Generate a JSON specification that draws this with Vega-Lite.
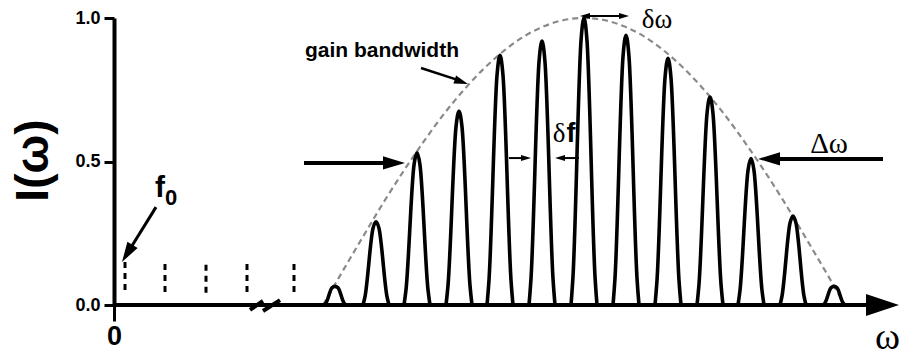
{
  "$schema": "https://vega.github.io/schema/vega-lite/v6.json",
  "width": 786,
  "height": 287,
  "autosize": "none",
  "padding": {"left": 114, "top": 18, "right": 0, "bottom": 51},
  "background": "white",
  "config": {"view": {"stroke": null}, "axis": {"grid": false}},
  "datasets": {
    "envelope": [
      {"x": 209, "y": 0}, {"x": 230, "y": 0.126}, {"x": 250, "y": 0.244}, {"x": 270, "y": 0.36},
      {"x": 290, "y": 0.469}, {"x": 310, "y": 0.571}, {"x": 330, "y": 0.666}, {"x": 350, "y": 0.75},
      {"x": 370, "y": 0.824}, {"x": 390, "y": 0.886}, {"x": 410, "y": 0.936}, {"x": 430, "y": 0.971},
      {"x": 450, "y": 0.993}, {"x": 470, "y": 1.0}, {"x": 490, "y": 0.993}, {"x": 510, "y": 0.971},
      {"x": 530, "y": 0.936}, {"x": 550, "y": 0.886}, {"x": 570, "y": 0.824}, {"x": 590, "y": 0.75},
      {"x": 610, "y": 0.666}, {"x": 630, "y": 0.571}, {"x": 650, "y": 0.469}, {"x": 670, "y": 0.36},
      {"x": 690, "y": 0.244}, {"x": 710, "y": 0.126}, {"x": 731, "y": 0}
    ],
    "peaks": [
      {"p": 1, "x": 210, "y": 0}, {"p": 1, "x": 212, "y": 0.007}, {"p": 1, "x": 218, "y": 0.06}, {"p": 1, "x": 221, "y": 0.065}, {"p": 1, "x": 224, "y": 0.06}, {"p": 1, "x": 230, "y": 0.007}, {"p": 1, "x": 232, "y": 0},
      {"p": 2, "x": 249, "y": 0}, {"p": 2, "x": 251, "y": 0.029}, {"p": 2, "x": 259, "y": 0.267}, {"p": 2, "x": 262, "y": 0.29}, {"p": 2, "x": 265, "y": 0.267}, {"p": 2, "x": 273, "y": 0.029}, {"p": 2, "x": 275, "y": 0},
      {"p": 3, "x": 290, "y": 0}, {"p": 3, "x": 292, "y": 0.053}, {"p": 3, "x": 300, "y": 0.488}, {"p": 3, "x": 303, "y": 0.53}, {"p": 3, "x": 306, "y": 0.488}, {"p": 3, "x": 314, "y": 0.053}, {"p": 3, "x": 316, "y": 0},
      {"p": 4, "x": 332, "y": 0}, {"p": 4, "x": 334, "y": 0.068}, {"p": 4, "x": 342, "y": 0.621}, {"p": 4, "x": 345, "y": 0.675}, {"p": 4, "x": 348, "y": 0.621}, {"p": 4, "x": 356, "y": 0.068}, {"p": 4, "x": 358, "y": 0},
      {"p": 5, "x": 373, "y": 0}, {"p": 5, "x": 375, "y": 0.087}, {"p": 5, "x": 383, "y": 0.8}, {"p": 5, "x": 386, "y": 0.87}, {"p": 5, "x": 389, "y": 0.8}, {"p": 5, "x": 397, "y": 0.087}, {"p": 5, "x": 399, "y": 0},
      {"p": 6, "x": 415, "y": 0}, {"p": 6, "x": 417, "y": 0.092}, {"p": 6, "x": 425, "y": 0.846}, {"p": 6, "x": 428, "y": 0.92}, {"p": 6, "x": 431, "y": 0.846}, {"p": 6, "x": 439, "y": 0.092}, {"p": 6, "x": 441, "y": 0},
      {"p": 7, "x": 457, "y": 0}, {"p": 7, "x": 459, "y": 0.1}, {"p": 7, "x": 467, "y": 0.92}, {"p": 7, "x": 470, "y": 1.0}, {"p": 7, "x": 473, "y": 0.92}, {"p": 7, "x": 481, "y": 0.1}, {"p": 7, "x": 483, "y": 0},
      {"p": 8, "x": 499, "y": 0}, {"p": 8, "x": 501, "y": 0.094}, {"p": 8, "x": 509, "y": 0.865}, {"p": 8, "x": 512, "y": 0.94}, {"p": 8, "x": 515, "y": 0.865}, {"p": 8, "x": 523, "y": 0.094}, {"p": 8, "x": 525, "y": 0},
      {"p": 9, "x": 541, "y": 0}, {"p": 9, "x": 543, "y": 0.086}, {"p": 9, "x": 551, "y": 0.791}, {"p": 9, "x": 554, "y": 0.86}, {"p": 9, "x": 557, "y": 0.791}, {"p": 9, "x": 565, "y": 0.086}, {"p": 9, "x": 567, "y": 0},
      {"p": 10, "x": 583, "y": 0}, {"p": 10, "x": 585, "y": 0.073}, {"p": 10, "x": 593, "y": 0.667}, {"p": 10, "x": 596, "y": 0.725}, {"p": 10, "x": 599, "y": 0.667}, {"p": 10, "x": 607, "y": 0.073}, {"p": 10, "x": 609, "y": 0},
      {"p": 11, "x": 624, "y": 0}, {"p": 11, "x": 626, "y": 0.051}, {"p": 11, "x": 634, "y": 0.469}, {"p": 11, "x": 637, "y": 0.51}, {"p": 11, "x": 640, "y": 0.469}, {"p": 11, "x": 648, "y": 0.051}, {"p": 11, "x": 650, "y": 0},
      {"p": 12, "x": 666, "y": 0}, {"p": 12, "x": 668, "y": 0.031}, {"p": 12, "x": 676, "y": 0.285}, {"p": 12, "x": 679, "y": 0.31}, {"p": 12, "x": 682, "y": 0.285}, {"p": 12, "x": 690, "y": 0.031}, {"p": 12, "x": 692, "y": 0},
      {"p": 13, "x": 709, "y": 0}, {"p": 13, "x": 711, "y": 0.007}, {"p": 13, "x": 717, "y": 0.06}, {"p": 13, "x": 720, "y": 0.065}, {"p": 13, "x": 723, "y": 0.06}, {"p": 13, "x": 729, "y": 0.007}, {"p": 13, "x": 731, "y": 0}
    ],
    "comb": [
      {"x": 11, "y": 0.15, "y2": 0.035},
      {"x": 51, "y": 0.143, "y2": 0.035},
      {"x": 92, "y": 0.14, "y2": 0.035},
      {"x": 133, "y": 0.143, "y2": 0.035},
      {"x": 180, "y": 0.143, "y2": 0.035}
    ],
    "shafts": [
      {"x": 0, "y": 0, "x2": 760, "y2": 0, "w": 4},
      {"x": 136, "y": -0.017, "x2": 149, "y2": 0.014, "w": 4},
      {"x": 149, "y": -0.021, "x2": 166, "y2": 0.017, "w": 4},
      {"x": 190, "y": 0.495, "x2": 275, "y2": 0.495, "w": 4},
      {"x": 769, "y": 0.509, "x2": 660, "y2": 0.509, "w": 4},
      {"x": 42, "y": 0.341, "x2": 16, "y2": 0.195, "w": 3},
      {"x": 307, "y": 0.826, "x2": 342, "y2": 0.786, "w": 2.5},
      {"x": 395, "y": 0.512, "x2": 410, "y2": 0.512, "w": 2},
      {"x": 465, "y": 0.512, "x2": 448, "y2": 0.512, "w": 2},
      {"x": 470, "y": 1.007, "x2": 511, "y2": 1.007, "w": 2}
    ],
    "heads": [
      {"x": 291, "y": 0.495, "a": 0, "s": 484},
      {"x": 644, "y": 0.509, "a": 180, "s": 484},
      {"x": 8, "y": 0.15, "a": 121.7, "s": 400},
      {"x": 354, "y": 0.77, "a": 18.8, "s": 196},
      {"x": 417, "y": 0.512, "a": 0, "s": 100},
      {"x": 441, "y": 0.512, "a": 180, "s": 100},
      {"x": 466, "y": 1.007, "a": 180, "s": 100},
      {"x": 515, "y": 1.007, "a": 0, "s": 100}
    ],
    "axisArrow": [{"x": 785, "y": 0}],
    "sansText": [
      {"x": 268, "y": 0.864, "t": "gain bandwidth", "fs": 21},
      {"x": 457, "y": 0.568, "t": "f", "fs": 27},
      {"x": 46, "y": 0.376, "t": "f", "fs": 30},
      {"x": 57, "y": 0.348, "t": "0", "fs": 22}
    ],
    "serifText": [
      {"x": 445, "y": 0.568, "t": "δ", "fs": 27},
      {"x": 543, "y": 0.966, "t": "δω", "fs": 27},
      {"x": 715, "y": 0.53, "t": "Δω", "fs": 29}
    ]
  },
  "layer": [
    {
      "data": {"name": "envelope"},
      "mark": {"type": "line", "color": "#8a8a8a", "strokeWidth": 2.2, "strokeDash": [6, 4], "interpolate": "monotone"},
      "encoding": {
        "x": {"field": "x", "type": "quantitative", "scale": {"domain": [0, 786], "nice": false, "zero": false},
          "axis": {"values": [0], "domain": false, "ticks": true, "tickSize": 16, "tickWidth": 3, "tickColor": "black",
            "labelFont": "Liberation Sans", "labelFontWeight": "bold", "labelFontSize": 27, "labelColor": "black", "labelPadding": 2, "labelFlush": false,
            "title": "ω", "titleFont": "Liberation Serif", "titleFontWeight": "normal", "titleFontSize": 38, "titleColor": "black",
            "titleX": 773, "titleY": 43, "titleAlign": "center", "titleBaseline": "alphabetic", "grid": false}},
        "y": {"field": "y", "type": "quantitative", "scale": {"domain": [0, 1], "nice": false},
          "axis": {"values": [0, 0.5, 1], "format": ".1f", "domain": true, "domainColor": "black", "domainWidth": 4,
            "tickSize": 10, "tickWidth": 3, "tickColor": "black",
            "labelFont": "Liberation Sans", "labelFontWeight": "bold", "labelFontSize": 18, "labelColor": "black", "labelPadding": 4, "labelFlush": false,
            "title": "I(ω)", "titleFont": "Liberation Sans", "titleFontWeight": "bold", "titleFontSize": 46, "titleColor": "black",
            "titleX": -67, "titleY": 142, "titleAngle": 270, "titleAlign": "center", "titleBaseline": "alphabetic", "grid": false}}
      }
    },
    {
      "data": {"name": "peaks"},
      "mark": {"type": "line", "color": "black", "strokeWidth": 3.6, "interpolate": "monotone", "strokeJoin": "round"},
      "encoding": {
        "x": {"field": "x", "type": "quantitative"},
        "y": {"field": "y", "type": "quantitative"},
        "detail": {"field": "p", "type": "nominal"}
      }
    },
    {
      "data": {"name": "comb"},
      "mark": {"type": "rule", "color": "black", "strokeWidth": 3, "strokeDash": [6, 5]},
      "encoding": {
        "x": {"field": "x", "type": "quantitative"},
        "y": {"field": "y", "type": "quantitative"},
        "y2": {"field": "y2"}
      }
    },
    {
      "data": {"name": "shafts"},
      "mark": {"type": "rule", "color": "black"},
      "encoding": {
        "x": {"field": "x", "type": "quantitative"},
        "y": {"field": "y", "type": "quantitative"},
        "x2": {"field": "x2"},
        "y2": {"field": "y2"},
        "strokeWidth": {"field": "w", "type": "quantitative", "scale": null}
      }
    },
    {
      "data": {"name": "heads"},
      "mark": {"type": "point", "shape": "M 0 0 L -2 -0.6 L -2 0.6 Z", "filled": true, "color": "black", "opacity": 1, "strokeWidth": 0},
      "encoding": {
        "x": {"field": "x", "type": "quantitative"},
        "y": {"field": "y", "type": "quantitative"},
        "size": {"field": "s", "type": "quantitative", "scale": null},
        "angle": {"field": "a", "type": "quantitative", "scale": null}
      }
    },
    {
      "data": {"name": "axisArrow"},
      "mark": {"type": "point", "shape": "M 0 0 L -2 -0.67 L -2 0.67 Z", "filled": true, "color": "black", "opacity": 1, "strokeWidth": 0, "size": 1089},
      "encoding": {
        "x": {"field": "x", "type": "quantitative"},
        "y": {"field": "y", "type": "quantitative"}
      }
    },
    {
      "data": {"name": "sansText"},
      "mark": {"type": "text", "font": "Liberation Sans", "fontWeight": "bold", "color": "black", "align": "center", "baseline": "alphabetic"},
      "encoding": {
        "x": {"field": "x", "type": "quantitative"},
        "y": {"field": "y", "type": "quantitative"},
        "text": {"field": "t"},
        "size": {"field": "fs", "type": "quantitative", "scale": null}
      }
    },
    {
      "data": {"name": "serifText"},
      "mark": {"type": "text", "font": "Liberation Serif", "fontWeight": "normal", "color": "black", "align": "center", "baseline": "alphabetic"},
      "encoding": {
        "x": {"field": "x", "type": "quantitative"},
        "y": {"field": "y", "type": "quantitative"},
        "text": {"field": "t"},
        "size": {"field": "fs", "type": "quantitative", "scale": null}
      }
    }
  ]
}
